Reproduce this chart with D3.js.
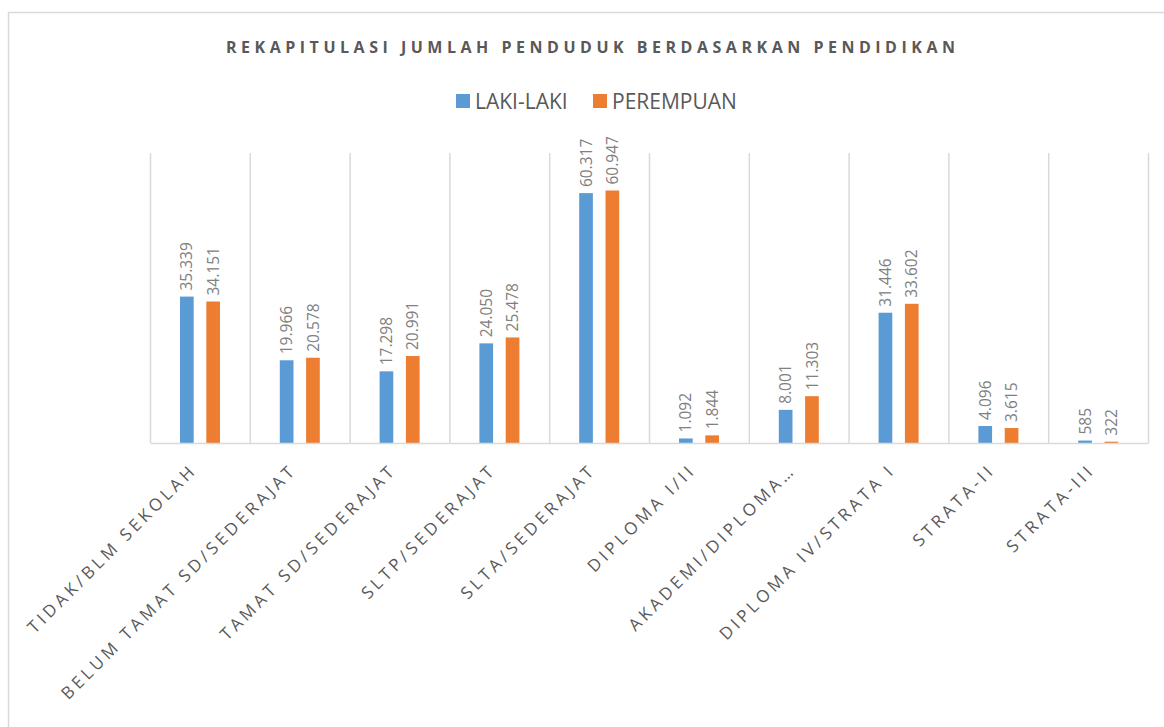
<!DOCTYPE html>
<html>
<head>
<meta charset="utf-8">
<script src="https://cdn.jsdelivr.net/npm/d3@7"></script>
<style>
    body { margin: 0; background: #fff; }
    text { font-family: "Open Sans", "Noto Sans", sans-serif; }
</style>
</head>
<body>
<div id="chart"></div>
<script>
// chart data
var categories = ["TIDAK/BLM SEKOLAH", "BELUM TAMAT SD/SEDERAJAT", "TAMAT SD/SEDERAJAT",
    "SLTP/SEDERAJAT", "SLTA/SEDERAJAT", "DIPLOMA I/II", "AKADEMI/DIPLOMA…",
    "DIPLOMA IV/STRATA I", "STRATA-II", "STRATA-III"];
var seriesNames = ["LAKI-LAKI", "PEREMPUAN"];
var lakiLaki = [35339, 19966, 17298, 24050, 60317, 1092, 8001, 31446, 4096, 585];
var perempuan = [34151, 20578, 20991, 25478, 60947, 1844, 11303, 33602, 3615, 322];
var colors = ["#5B9BD5", "#ED7D31"];

var W = 1164, H = 727;
var plot = { left: 150, right: 1148, top: 153, bottom: 443 };

var svg = d3.select("#chart").append("svg")
    .attr("width", W)
    .attr("height", H);

// outer chart border (runs off the right and bottom edge)
svg.append("rect")
    .attr("x", 8.5).attr("y", 12.5)
    .attr("width", 1200).attr("height", 800)
    .attr("fill", "none")
    .attr("stroke", "#d9d9d9")
    .attr("stroke-width", 1.5);

// title
svg.append("text")
    .attr("x", 590.5)
    .attr("y", 52.5)
    .attr("text-anchor", "middle")
    .attr("textLength", 729)
    .attr("lengthAdjust", "spacing")
    .style("font-size", "16px")
    .style("font-weight", "bold")
    .style("fill", "#595959")
    .text("REKAPITULASI JUMLAH PENDUDUK BERDASARKAN PENDIDIKAN");

// legend
var legendX = [456, 593];
seriesNames.forEach(function (name, i) {
    svg.append("rect")
        .attr("x", legendX[i]).attr("y", 94)
        .attr("width", 14).attr("height", 14)
        .attr("fill", colors[i]);
    svg.append("text")
        .attr("x", legendX[i] + 19)
        .attr("y", 108.5)
        .style("font-size", "21px")
        .style("fill", "#595959")
        .text(name);
});

// scales
var x = d3.scaleBand()
    .domain(categories)
    .range([plot.left, plot.right])
    .padding(0);

var xSub = d3.scaleBand()
    .domain(seriesNames)
    .range([30, 70])
    .paddingInner(0.48);

var y = d3.scaleLinear()
    .domain([0, 70000])
    .range([plot.bottom, plot.top]);

// vertical category gridlines
var bounds = categories.map(function (c) { return x(c); }).concat([plot.right]);
svg.append("g")
    .selectAll("line")
    .data(bounds)
    .enter()
    .append("line")
    .attr("x1", function (d) { return d + 0.5; })
    .attr("x2", function (d) { return d + 0.5; })
    .attr("y1", plot.top)
    .attr("y2", plot.bottom)
    .attr("stroke", "#d9d9d9")
    .attr("stroke-width", 1.5);

// build rows for bars
var rows = [];
categories.forEach(function (c, i) {
    rows.push({ cat: c, series: seriesNames[0], value: lakiLaki[i], color: colors[0] });
    rows.push({ cat: c, series: seriesNames[1], value: perempuan[i], color: colors[1] });
});

// bars
svg.append("g")
    .selectAll("rect")
    .data(rows)
    .enter()
    .append("rect")
    .attr("x", function (d) { return x(d.cat) + xSub(d.series); })
    .attr("y", function (d) { return y(d.value); })
    .attr("width", xSub.bandwidth())
    .attr("height", function (d) { return plot.bottom - y(d.value); })
    .attr("fill", function (d) { return d.color; });

// value labels (rotated)
var fmt = d3.formatLocale({ decimal: ",", thousands: ".", grouping: [3], currency: ["", ""] }).format(",d");
svg.append("g")
    .selectAll("text")
    .data(rows)
    .enter()
    .append("text")
    .attr("transform", function (d) {
        var cx = x(d.cat) + xSub(d.series) + xSub.bandwidth() / 2;
        var cy = y(d.value) - 6;
        return "translate(" + cx + "," + cy + ") rotate(-90)";
    })
    .attr("dy", "0.36em")
    .style("font-size", "15.5px")
    .style("fill", "#808080")
    .text(function (d) { return fmt(d.value); });

// x axis
var xAxis = svg.append("g")
    .attr("transform", "translate(0," + plot.bottom + ")")
    .call(d3.axisBottom(x).tickSize(0).tickSizeOuter(0));

xAxis.select(".domain")
    .attr("stroke", "#d9d9d9")
    .attr("stroke-width", 1.5);

xAxis.selectAll("text")
    .attr("x", 0)
    .attr("y", 0)
    .attr("dy", 0)
    .attr("transform", "translate(-2,28) rotate(-45)")
    .attr("text-anchor", "end")
    .style("font-family", "'Open Sans', sans-serif")
    .style("font-size", "17px")
    .style("letter-spacing", "3.7px")
    .style("fill", "#595959");
</script>
</body>
</html>
